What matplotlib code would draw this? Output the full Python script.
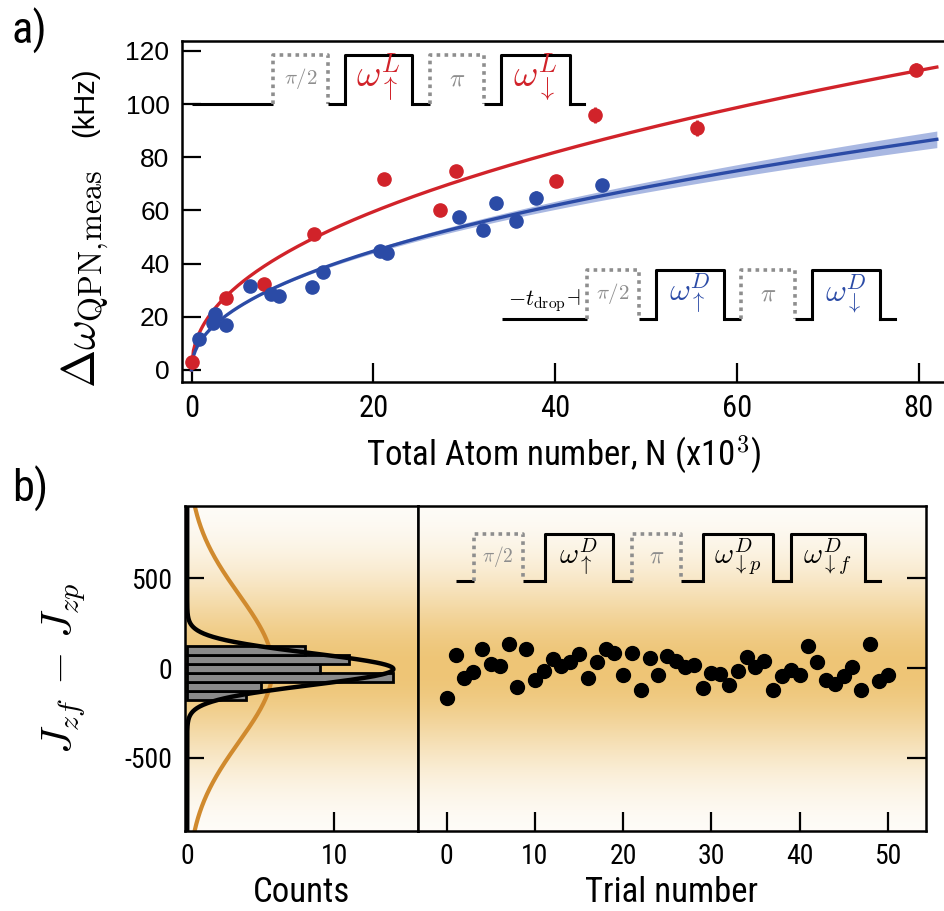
import numpy as np
import matplotlib
matplotlib.use("Agg")
import matplotlib.pyplot as plt
from matplotlib import font_manager

# ---------------- data ----------------
# Panel a: spread of the QPN frequency vs total atom number (x10^3)
atoms_light = [0.1, 3.8, 8.0, 13.5, 21.2, 27.3, 29.1, 40.1, 44.4, 55.6, 79.7]
spread_light = [3.1, 27.1, 32.5, 51.0, 71.7, 60.0, 75.0, 71.0, 95.7, 91.1, 112.9]
spread_light_err = [1.2, 1.5, 1.2, 1.5, 1.5, 1.2, 1.5, 1.5, 3.0, 3.0, 2.5]

atoms_dark = [0.8, 2.4, 2.55, 3.8, 6.4, 8.7, 9.6, 13.2, 14.5, 20.7, 21.5,
              29.4, 32.1, 33.5, 35.7, 37.9, 45.2]
spread_dark = [11.6, 17.7, 20.9, 17.1, 31.6, 28.4, 27.7, 31.2, 36.9, 44.7, 44.0,
               57.5, 52.8, 62.6, 56.0, 64.8, 69.6]
spread_dark_err = [1.0, 1.0, 1.2, 1.0, 1.2, 1.2, 1.2, 1.2, 1.5, 1.5, 1.5,
                   1.5, 1.5, 2.5, 1.5, 2.5, 2.0]

# power-law fits: y = amp * N**expo
fit_light = (15.0, 0.46)
fit_dark = (10.93, 0.47)
dark_band_rel = 0.038          # half-width of the fit uncertainty band per unit N

# Panel b: J_zf - J_zp for each trial
trial_number = list(range(51))
jz_diff = [-166, 75, -55, -20, 107, 24, 13, 133, -105, 105, -65, -13, 53, 13, 37,
           77, -54, 37, 107, 83, -37, 85, -124, 55, -37, 68, 42, 9, 18, -113, -28,
           -32, -91, -17, 64, 6, 42, -120, -41, -9, -37, 125, 37, -65, -87, -46, 6,
           -124, 133, -74, -37]
hist_edges = [-175, -125, -75, -25, 25, 75, 125]
hist_counts = [4, 5, 14, 9, 11, 8]
narrow_fit = (14.0, -5.0, 88.0)     # amplitude, centre, sigma
qpn_fit = (5.8, 0.0, 410.0)         # projection-noise gaussian

# ---------------- style ----------------
def pick_font(*names):
    have = {f.name for f in font_manager.fontManager.ttflist}
    for n in names:
        if n in have:
            return n
    return "DejaVu Sans"

NARROW = pick_font("Liberation Sans Narrow", "Roboto Condensed", "Liberation Sans")
ARIAL = pick_font("Liberation Sans", "Arial", "DejaVu Sans")

plt.rcParams["mathtext.fontset"] = "cm"
plt.rcParams["axes.unicode_minus"] = False
plt.rcParams["font.family"] = [ARIAL, "DejaVu Sans"]

RED = "#D1232A"
BLUE = "#2B4BA6"
BAND = "#A9B8E2"
GRAY = "#8E8E8E"
ORANGE = "#D08A2E"
LW_SP = 1.8

fig = plt.figure(figsize=(9.45, 9.11), dpi=100)

W, H = 945.0, 911.0
def box(l, t, r, b):
    return [l / W, 1 - b / H, (r - l) / W, (b - t) / H]

def style_axes(ax):
    for s in ax.spines.values():
        s.set_linewidth(LW_SP)
    ax.tick_params(direction="in", length=13.5, width=1.6)


def draw_sequence(ax, base, top, start, end, pulses, lw=2.2):
    """pulses: list of (x0, x1, kind, label, color, size)."""
    xs = [start]
    for x0, x1, kind, label, col, size in pulses:
        ax.plot([xs[-1], x0], [base, base], color="black", lw=lw,
                solid_capstyle="butt", zorder=5)
        if kind == "dot":
            ax.plot([x0, x0, x1, x1], [base, top, top, base], color=GRAY,
                    lw=lw + 0.4, ls=(0, (1, 1.2)), zorder=5)
        else:
            ax.plot([x0, x0, x1, x1], [base, top, top, base], color="black",
                    lw=lw, zorder=5)
        ax.text((x0 + x1) / 2, base + 0.52 * (top - base), label, color=col,
                fontsize=size, ha="center", va="center", zorder=6)
        xs.append(x1)
    ax.plot([xs[-1], end], [base, base], color="black", lw=lw, zorder=5)


# ---------------- panel a ----------------
axa = fig.add_axes(box(182, 40.7, 945, 381.7))
style_axes(axa)
axa.spines["right"].set_visible(False)
axa.set_xlim(-1.05, 82.9)
axa.set_ylim(-4.4, 123.8)

nn = np.linspace(0.0, 82.0, 400)
yl = fit_light[0] * nn ** fit_light[1]
yd = fit_dark[0] * nn ** fit_dark[1]
axa.fill_between(nn, yd - dark_band_rel * nn, yd + dark_band_rel * nn,
                 color=BAND, lw=0, zorder=1)
axa.plot(nn, yl, color=RED, lw=2.4, zorder=2)
axa.plot(nn, yd, color=BLUE, lw=2.4, zorder=2)
axa.errorbar(atoms_light, spread_light, yerr=spread_light_err, fmt="o", ms=9.5,
             color=RED, ecolor=RED, elinewidth=2, capsize=0, zorder=3)
axa.errorbar(atoms_dark, spread_dark, yerr=spread_dark_err, fmt="o", ms=9.5,
             color=BLUE, ecolor=BLUE, elinewidth=2, capsize=0, zorder=3)

axa.set_xticks([0, 20, 40, 60, 80])
axa.set_yticks([0, 20, 40, 60, 80, 100, 120])
axa.tick_params(axis="y", labelsize=19, pad=9)
axa.tick_params(axis="x", labelsize=22, pad=9)
for t in axa.get_xticklabels():
    t.set_fontfamily(NARROW)
axa.set_xlabel("Total Atom number, N (x10$^3$)", fontsize=25, family=NARROW,
               labelpad=8)

draw_sequence(axa, 100.0, 118.5, 0.0, 43.2, [
    (9.0, 15.0, "dot", r"$\pi/2$", GRAY, 15),
    (16.9, 24.3, "sol", r"$\omega_{\uparrow}^{L}$", RED, 27),
    (26.2, 32.2, "dot", r"$\pi$", GRAY, 18),
    (34.1, 41.6, "sol", r"$\omega_{\downarrow}^{L}$", RED, 27),
])
draw_sequence(axa, 19.2, 37.6, 34.2, 77.4, [
    (43.5, 49.2, "dot", r"$\pi/2$", GRAY, 15),
    (51.1, 58.6, "sol", r"$\omega_{\uparrow}^{D}$", BLUE, 23),
    (60.4, 66.4, "dot", r"$\pi$", GRAY, 18),
    (68.3, 75.7, "sol", r"$\omega_{\downarrow}^{D}$", BLUE, 23),
])
axa.text(38.8, 26.0, r"$-t_{\mathrm{drop}}\!\dashv$", fontsize=16,
         ha="center", va="center", color="black", zorder=6)

fig.text(95 / W, 1 - 388 / H, r"$\Delta\omega_{\mathrm{QPN,\!meas}}$", fontsize=33,
         rotation=90, rotation_mode="anchor", ha="left", va="baseline")
fig.text(93 / W, 1 - 137 / H, "(kHz)", fontsize=21, family=ARIAL,
         rotation=90, rotation_mode="anchor", ha="left", va="baseline")
fig.text(12 / W, 1 - 8 / H, "a)", fontsize=32, family=NARROW, ha="left", va="top")

# ---------------- panel b ----------------
YLIM_B = (-905, 905)
axh = fig.add_axes(box(185, 505.7, 417.7, 830.7))
axt = fig.add_axes(box(417.7, 505.7, 925.7, 830.7))
for ax in (axh, axt):
    style_axes(ax)
    ax.set_ylim(*YLIM_B)

axh.set_xlim(-0.15, 15.65)
axt.set_xlim(-3.3, 54.3)

# vertical orange background gradient
yy = np.linspace(YLIM_B[0], YLIM_B[1], 600)
w = np.exp(-yy ** 2 / (2 * 370.0 ** 2))
c0 = np.array([1.0, 1.0, 1.0])
c1 = np.array([238, 197, 118]) / 255.0
grad = (c0[None, :] * (1 - w[:, None]) + c1[None, :] * w[:, None])[:, None, :]
for ax in (axh, axt):
    x0, x1 = ax.get_xlim()
    ax.imshow(grad, extent=[x0, x1, YLIM_B[0], YLIM_B[1]], origin="lower",
              aspect="auto", zorder=0, interpolation="bilinear")

# histogram with fits
edges = np.array(hist_edges, dtype=float)
centres = (edges[:-1] + edges[1:]) / 2
axh.barh(centres, hist_counts, height=np.diff(edges), color="#8A8A8A",
         edgecolor="black", lw=2.0, zorder=2)
jj = np.linspace(YLIM_B[0], YLIM_B[1], 600)
a, m, s = qpn_fit
axh.plot(a * np.exp(-(jj - m) ** 2 / (2 * s ** 2)), jj, color=ORANGE, lw=3.0,
         zorder=1.5)
a, m, s = narrow_fit
axh.plot(a * np.exp(-(jj - m) ** 2 / (2 * s ** 2)), jj, color="black", lw=3.2,
         zorder=3, clip_on=True)

axh.set_xticks([0, 10])
axh.set_yticks([-500, 0, 500])
axh.tick_params(axis="both", labelsize=20, pad=9)
for t in axh.get_xticklabels() + axh.get_yticklabels():
    t.set_fontfamily(NARROW)
axh.set_xlabel("Counts", fontsize=25, family=NARROW, labelpad=4)
fig.text(64 / W, 1 - 668 / H, r"$J_{zf}\,-\,J_{zp}$", fontsize=31, rotation=90,
         ha="center", va="center")

# trials
axt.plot(trial_number, jz_diff, "o", color="black", ms=10, zorder=3)
axt.set_xticks([0, 10, 20, 30, 40, 50])
axt.set_yticks([-500, 0, 500])
axt.tick_params(axis="y", left=False, right=True, labelleft=False)
axt.tick_params(axis="x", labelsize=20, pad=9)
for t in axt.get_xticklabels():
    t.set_fontfamily(NARROW)
axt.set_xlabel("Trial number", fontsize=25, family=NARROW, labelpad=4)

draw_sequence(axt, 485.0, 745.0, 1.0, 49.1, [
    (3.06, 8.6, "dot", r"$\pi/2$", GRAY, 14),
    (11.1, 18.8, "sol", r"$\omega_{\uparrow}^{D}$", "black", 21),
    (21.0, 26.5, "dot", r"$\pi$", GRAY, 17),
    (29.0, 37.0, "sol", r"$\omega_{\downarrow p}^{D}$", "black", 21),
    (39.0, 47.4, "sol", r"$\omega_{\downarrow f}^{D}$", "black", 21),
])

fig.text(12 / W, 1 - 466 / H, "b)", fontsize=32, family=NARROW, ha="left", va="top")

fig.savefig("out.png", dpi=100)
